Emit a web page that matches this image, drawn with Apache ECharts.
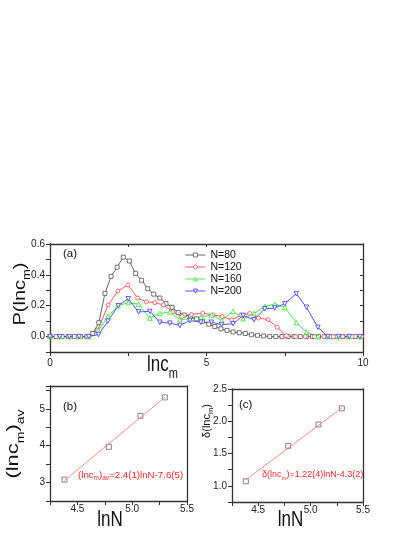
<!DOCTYPE html>
<html>
<head>
<meta charset="utf-8">
<script src="https://cdn.jsdelivr.net/npm/echarts@6/dist/echarts.min.js"></script>
<style>
  html, body { margin: 0; padding: 0; background: #fff; }
  #chart { width: 415px; height: 537px; }
</style>
</head>
<body>
<div id="chart"></div>
<script>
// panel (a): P(lnc_m) for each N, x positions
var xFine = [0, 0.195, 0.39, 0.585, 0.78, 0.975, 1.17, 1.365, 1.56, 1.755, 1.95, 2.145, 2.34,
  2.535, 2.73, 2.925, 3.12, 3.315, 3.51, 3.705, 3.9, 4.095, 4.29, 4.485, 4.68, 4.875, 5.07,
  5.265, 5.46, 5.655, 5.85, 6.045, 6.24, 6.435, 6.63, 6.825, 7.02, 7.215, 7.41, 7.605, 7.8,
  7.995, 8.19, 8.385, 8.58, 8.775, 8.97, 9.165, 9.36, 9.555, 9.75, 9.945];
var p80 = [0, 0, 0, 0, 0, 0, 0, 0.02, 0.09, 0.28, 0.39, 0.45, 0.515, 0.49, 0.41, 0.365, 0.31,
  0.275, 0.25, 0.215, 0.19, 0.155, 0.14, 0.13, 0.115, 0.10, 0.08, 0.065, 0.05, 0.04, 0.03,
  0.025, 0.02, 0.012, 0.008, 0.004, 0, 0, 0, 0, 0, 0, 0, 0, 0, 0, 0, 0, 0, 0, 0, 0];

var xMid = [0, 0.3, 0.6, 0.9, 1.2, 1.52, 1.86, 2.17, 2.49, 2.8, 3.08, 3.35, 3.62, 3.92, 4.22,
  4.52, 4.88, 5.2, 5.5, 5.8, 6.1, 6.38, 6.66, 6.97, 7.26, 7.55, 7.85, 8.15, 8.45, 8.75, 9.05,
  9.35, 9.65, 9.95];
var p120 = [0, 0, 0, 0, 0, 0.04, 0.205, 0.295, 0.335, 0.25, 0.225, 0.22, 0.205, 0.16, 0.13,
  0.143, 0.152, 0.14, 0.13, 0.108, 0.14, 0.15, 0.12, 0.11, 0.06, 0.005, 0, 0, 0, 0, 0, 0, 0, 0];

var xCoarse = [0, 0.31, 0.62, 0.93, 1.24, 1.55, 1.85, 2.18, 2.5, 2.83, 3.19, 3.51, 3.83, 4.15,
  4.47, 4.82, 5.16, 5.48, 5.85, 6.17, 6.52, 6.86, 7.18, 7.5, 7.87, 8.19, 8.56, 8.88, 9.22,
  9.56, 9.9];
var p160 = [0, 0, 0, 0, 0, 0.04, 0.13, 0.2, 0.22, 0.21, 0.12, 0.15, 0.16, 0.11, 0.115, 0.125,
  0.14, 0.105, 0.165, 0.115, 0.15, 0.195, 0.21, 0.19, 0.09, 0.03, 0, 0, 0, 0, 0];
var p200 = [0, 0, 0, 0, 0, 0.013, 0.10, 0.20, 0.245, 0.16, 0.163, 0.093, 0.087, 0.072, 0.104,
  0.093, 0.093, 0.078, 0.083, 0.137, 0.109, 0.18, 0.185, 0.213, 0.278, 0.19, 0.06, 0, 0, 0, 0];

var seriesNames = ['N=80', 'N=120', 'N=160', 'N=200'];

// panels (b) and (c)
var lnN = [4.382, 4.787, 5.075, 5.298];
var lncAv = [3.08, 3.97, 4.81, 5.31];
var lncDelta = [1.07, 1.62, 1.95, 2.2];
var fitX = [4.38, 5.30];
var fitAv = [3.05, 5.32];
var fitDelta = [1.09, 2.21];

var FONT = "'Liberation Sans', Arial, sans-serif";
var AX = '#333';

function pairs(xs, ys) {
  return xs.map(function (x, i) { return [x, ys[i]]; });
}

function axis(grid, pos, min, max, step, opts) {
  return {
    gridIndex: grid,
    type: 'value',
    position: pos,
    min: min,
    max: max,
    interval: step,
    axisLine: { show: true, onZero: false, lineStyle: { color: AX, width: 1.3 } },
    axisTick: { show: opts.tick !== false, inside: !!opts.inside, length: opts.inside ? 3 : 4,
      lineStyle: { color: AX, width: 1 } },
    axisLabel: { show: !!opts.fmt, formatter: opts.fmt, margin: opts.margin || 5,
      fontSize: 10, color: '#222', fontFamily: FONT },
    splitLine: { show: false }
  };
}

function lineSeries(name, xs, ys, color, symbol, rot) {
  return {
    name: name,
    type: 'line',
    xAxisIndex: 0,
    yAxisIndex: 0,
    data: pairs(xs, ys),
    symbol: symbol,
    symbolSize: symbol === 'triangle' ? 4.5 : 4,
    symbolRotate: rot || 0,
    showAllSymbol: true,
    lineStyle: { color: color, width: 0.9 },
    itemStyle: { color: '#fff', borderColor: color, borderWidth: 0.8 }
  };
}

function subRich(fs, sfs, drop, color) {
  return {
    n: { fontSize: fs, lineHeight: fs, padding: [0, 0, drop, 0], verticalAlign: 'bottom',
      fontFamily: FONT, fill: color },
    s: { fontSize: sfs, lineHeight: sfs, verticalAlign: 'bottom', fontFamily: FONT, fill: color }
  };
}

function text(x, y, str, fs, o) {
  o = o || {};
  return {
    type: 'text',
    x: x,
    y: y,
    rotation: o.rot || 0,
    scaleX: o.sx || 1,
    scaleY: o.sy || 1,
    silent: true,
    style: {
      text: str,
      x: 0,
      y: 0,
      fontSize: fs,
      fontFamily: FONT,
      fill: o.color || '#111',
      align: o.align || 'left',
      verticalAlign: 'middle',
      textAlign: o.align || 'left',
      textVerticalAlign: 'middle',
      rich: o.rich
    }
  };
}

var fmtA_x = function (v) { return v % 5 === 0 ? String(v) : ''; };
var fmtA_y = function (v) { return Math.round(v * 10) % 2 === 0 ? v.toFixed(1) : ''; };
var fmtLnN = function (v) { return Math.round(v * 4) % 2 === 0 ? v.toFixed(1) : ''; };
var fmtB_y = function (v) { return Math.abs(v - Math.round(v)) < 1e-6 ? String(Math.round(v)) : ''; };
var fmtC_y = function (v) { return Math.round(v * 4) % 2 === 0 ? v.toFixed(1) : ''; };

var chart = echarts.init(document.getElementById('chart'));

var option = {
  animation: false,
  backgroundColor: '#fff',
  grid: [
    { left: 50, top: 244, width: 313, height: 108, outerBoundsMode: 'none' },
    { left: 50, top: 386, width: 137, height: 115, outerBoundsMode: 'none' },
    { left: 232, top: 389, width: 131, height: 113, outerBoundsMode: 'none' }
  ],
  xAxis: [
    axis(0, 'bottom', 0, 10, 2.5, { fmt: fmtA_x, margin: 6 }),
    axis(0, 'top', 0, 10, 2.5, { inside: true }),
    axis(1, 'bottom', 4.25, 5.5, 0.25, { fmt: fmtLnN, margin: 3 }),
    axis(1, 'top', 4.25, 5.5, 0.25, { tick: false }),
    axis(2, 'bottom', 4.25, 5.5, 0.25, { fmt: fmtLnN, margin: 3 }),
    axis(2, 'top', 4.25, 5.5, 0.25, { tick: false })
  ],
  yAxis: [
    axis(0, 'left', -0.1, 0.6, 0.1, { fmt: fmtA_y, margin: 5 }),
    axis(0, 'right', -0.1, 0.6, 0.1, { inside: true }),
    axis(1, 'left', 2.5, 5.62, 0.5, { fmt: fmtB_y, margin: 5 }),
    axis(1, 'right', 2.5, 5.62, 0.5, { tick: false }),
    axis(2, 'left', 0.75, 2.5, 0.25, { fmt: fmtC_y, margin: 5 }),
    axis(2, 'right', 0.75, 2.5, 0.25, { tick: false })
  ],
  legend: {
    data: seriesNames,
    orient: 'vertical',
    left: 185,
    top: 249,
    itemWidth: 20,
    itemHeight: 5,
    itemGap: 0,
    padding: 0,
    lineStyle: { width: 0.9 },
    itemStyle: { borderWidth: 0.8 },
    textStyle: { fontSize: 10.5, lineHeight: 12, color: '#111', fontFamily: FONT }
  },
  series: [
    lineSeries(seriesNames[0], xFine, p80, '#555555', 'rect'),
    lineSeries(seriesNames[1], xMid, p120, '#ff4a4a', 'circle'),
    lineSeries(seriesNames[2], xCoarse, p160, '#33e633', 'triangle'),
    lineSeries(seriesNames[3], xCoarse, p200, '#3c3cff', 'triangle', 180),
    {
      type: 'line', xAxisIndex: 2, yAxisIndex: 2, data: pairs(fitX, fitAv),
      symbol: 'none', lineStyle: { color: '#ff8a8a', width: 1 }
    },
    {
      type: 'scatter', xAxisIndex: 2, yAxisIndex: 2, data: pairs(lnN, lncAv),
      symbol: 'rect', symbolSize: 5,
      itemStyle: { color: '#fff', borderColor: '#555', borderWidth: 0.9 }
    },
    {
      type: 'line', xAxisIndex: 4, yAxisIndex: 4, data: pairs(fitX, fitDelta),
      symbol: 'none', lineStyle: { color: '#ff8a8a', width: 1 }
    },
    {
      type: 'scatter', xAxisIndex: 4, yAxisIndex: 4, data: pairs(lnN, lncDelta),
      symbol: 'rect', symbolSize: 5,
      itemStyle: { color: '#fff', borderColor: '#555', borderWidth: 0.9 }
    }
  ],
  graphic: [
    text(63, 254, '(a)', 11.5),
    text(63, 407, '(b)', 11.5),
    text(239, 405, '(c)', 11.5),
    text(147, 370, '{n|lnc}{s|m}', 17, { sy: 1.25, rich: subRich(17, 11, 4, '#111') }),
    text(110, 520.5, 'lnN', 17, { sy: 1.25, align: 'center' }),
    text(290.5, 520.5, 'lnN', 17, { sy: 1.25, align: 'center' }),
    text(24, 294, '{n|P(lnc}{s|m}{n|)}', 20,
      { rot: Math.PI / 2, sy: 0.8, align: 'center', rich: subRich(20, 13, 4, '#111') }),
    text(17.5, 444, '{n|(lnc}{s|m}{n|)}{s|av}', 22,
      { rot: Math.PI / 2, sy: 0.78, align: 'center', rich: subRich(22, 14, 5, '#111') }),
    text(209.7, 421, '{n|δ(lnc}{s|m}{n|)}', 11,
      { rot: Math.PI / 2, align: 'center', rich: subRich(11, 7.5, 3, '#111') }),
    text(78, 477, '{n|(lnc}{s|m}{n|)}{s|av}{n|=2.4(1)lnN-7.6(5)}', 9.7,
      { color: '#ff2a2a', rich: subRich(9.7, 6.5, 2, '#ff2a2a') }),
    text(262, 477, '{n|δ(lnc}{s|m}{n|)=1.22(4)lnN-4.3(2)}', 9,
      { color: '#ff2a2a', rich: subRich(9, 6, 2, '#ff2a2a') })
  ]
};

chart.setOption(option);
</script>
</body>
</html>
